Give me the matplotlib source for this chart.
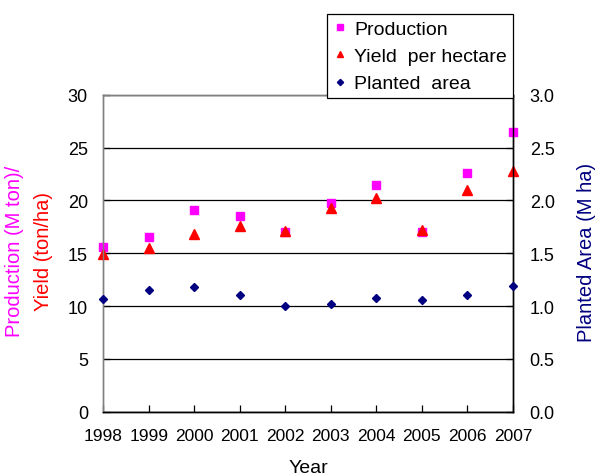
import matplotlib
matplotlib.use('Agg')
import matplotlib.pyplot as plt

plt.rcParams['font.family'] = ['Liberation Sans', 'DejaVu Sans']

years = [1998, 1999, 2000, 2001, 2002, 2003, 2004, 2005, 2006, 2007]
production = [15.6, 16.5, 19.1, 18.5, 17.0, 19.8, 21.5, 17.0, 22.6, 26.5]
yield_ha = [14.9, 15.5, 16.8, 17.6, 17.1, 19.3, 20.2, 17.2, 21.0, 22.8]
planted = [1.07, 1.15, 1.18, 1.10, 1.00, 1.02, 1.08, 1.06, 1.10, 1.19]

left_ticks = [0, 5, 10, 15, 20, 25, 30]
right_ticks = [0.0, 0.5, 1.0, 1.5, 2.0, 2.5, 3.0]

fig = plt.figure(figsize=(6.0, 4.77), dpi=100)
ax = fig.add_axes([0.172, 0.135, 0.683, 0.664])
ax2 = ax.twinx()

p1, = ax.plot(years, production, 's', color='#FF00FF', ms=6, clip_on=False, zorder=4)
p2, = ax.plot(years, yield_ha, '^', color='#FF0000', ms=7, clip_on=False, zorder=5)
p3, = ax2.plot(years, planted, 'D', color='#000080', ms=4.5, clip_on=False, zorder=4)

ax.set_xlim(1998, 2007)
ax.set_ylim(0, 30)
ax2.set_ylim(0, 3.0)
ax.set_xticks(years)
ax.set_yticks(left_ticks)
ax2.set_yticks(right_ticks)
ax2.set_yticklabels(['%.1f' % t for t in right_ticks])

ax.yaxis.grid(True, color='black', lw=0.9)
ax.set_axisbelow(True)

for a in (ax, ax2):
    a.tick_params(direction='in', length=5, width=0.9, labelsize=13, colors='black')
    for s in a.spines.values():
        s.set_linewidth(1.0)
ax.tick_params(axis='x', labelsize=12.5, pad=12)
ax.tick_params(axis='y', pad=11)
ax2.tick_params(axis='y', pad=12)
ax.spines['left'].set_color('#808080')
ax.spines['top'].set_color('#808080')
ax2.spines['left'].set_color('#808080')
ax2.spines['top'].set_color('#808080')

ax.set_xlabel('Year', fontsize=14, labelpad=11)
fig.text(0.025, 0.472, 'Production (M ton)/', color='#FF00FF', fontsize=14.5,
         rotation=90, ha='center', va='center')
fig.text(0.072, 0.472, 'Yield (ton/ha)', color='#FF0000', fontsize=14.5,
         rotation=90, ha='center', va='center')
fig.text(0.978, 0.47, 'Planted Area (M ha)', color='#000080', fontsize=14.5,
         rotation=90, ha='center', va='center')

leg = fig.legend([p1, p2, p3], ['Production', 'Yield  per hectare', 'Planted  area'],
                 loc='upper right', bbox_to_anchor=(0.855, 0.968), borderaxespad=0,
                 fontsize=14, markerscale=0.7, handlelength=0.7, handletextpad=0.4,
                 borderpad=0.3, labelspacing=0.5, fancybox=False, framealpha=1)
leg.get_frame().set_edgecolor('black')
leg.get_frame().set_linewidth(0.9)

fig.savefig('out.png', dpi=100)
